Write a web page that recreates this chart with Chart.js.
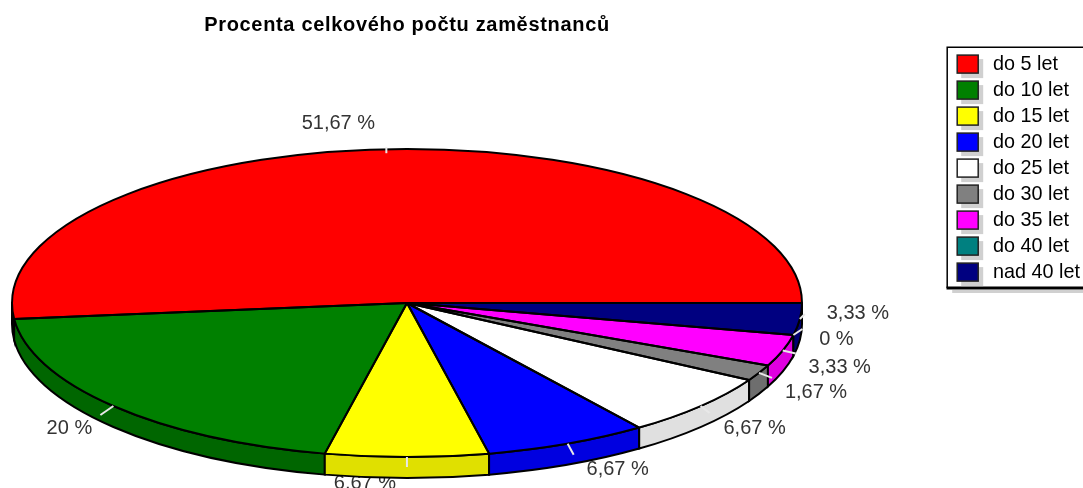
<!DOCTYPE html>
<html>
<head>
<meta charset="utf-8">
<style>
  html, body { margin: 0; padding: 0; background: #fff; overflow: hidden; }
  #box { position: relative; width: 1083px; height: 488px; }
</style>
<script src="https://cdn.jsdelivr.net/npm/chart.js@4"></script>
</head>
<body>
<div id="box"><canvas id="myChart" width="1083" height="488"></canvas></div>
<script>
const categories = ['do 5 let', 'do 10 let', 'do 15 let', 'do 20 let', 'do 25 let', 'do 30 let', 'do 35 let', 'do 40 let', 'nad 40 let'];
const percents = [51.67, 20, 6.67, 6.67, 6.67, 1.67, 3.33, 0, 3.33];
const topColors = ['#ff0000', '#008000', '#ffff00', '#0000ff', '#ffffff', '#808080', '#ff00ff', '#008080', '#000080'];
const wallColors = ['#e00000', '#006600', '#e0e000', '#0000e0', '#e0e0e0', '#6e6e6e', '#e000e0', '#006e6e', '#000070'];
const titleText = 'Procenta celkového počtu zaměstnanců';

// the flattened pie on the page
const pieX = 407, pieY = 303, pieW = 395, pieH = 154, pieDepth = 21;
// label and tick offsets from the rim point in the middle of each slice
const labelOffsets = [[-48, -26], [-44, 22], [-42, 26], [50, 26], [54, 22], [57, 20], [57, 17], [43, 5], [58, -6]];
const tickEnds = [[0, 4], [-13, 9], [0, 10], [6, 11], [9, 7], [13, 5], [13, 3], [9, -6], [5, -5]];

const font = '"Liberation Sans", Arial, sans-serif';

function rimPoint(a) {
  return [pieX + pieW * Math.cos(a), pieY - pieH * Math.sin(a)];
}

const pie3d = {
  id: 'pie3d',
  beforeDatasetsDraw(chart) {
    const ctx = chart.ctx;
    const arcs = chart.getDatasetMeta(0).data;

    // labels go first, the wall covers the top of the lowest one
    ctx.save();
    ctx.font = '20px ' + font;
    ctx.fillStyle = '#333';
    ctx.textAlign = 'center';
    ctx.textBaseline = 'middle';
    arcs.forEach((arc, i) => {
      const p = rimPoint((arc.startAngle + arc.endAngle) / 2);
      const text = String(percents[i]).replace('.', ',') + ' %';
      ctx.fillText(text, p[0] + labelOffsets[i][0], p[1] + labelOffsets[i][1]);
    });

    // side wall, only the front half can be seen
    ctx.strokeStyle = '#000';
    ctx.lineWidth = 2;
    arcs.forEach((arc, i) => {
      const from = Math.max(arc.startAngle, Math.PI);
      const to = Math.min(arc.endAngle, Math.PI * 2);
      if (to <= from) return;
      ctx.beginPath();
      ctx.ellipse(pieX, pieY, pieW, pieH, 0, -from, -to, true);
      ctx.ellipse(pieX, pieY + pieDepth, pieW, pieH, 0, -to, -from, false);
      ctx.closePath();
      ctx.fillStyle = wallColors[i];
      ctx.fill();
      ctx.stroke();
    });
    ctx.restore();

    // squash and mirror, so the clockwise pie runs the other way round
    const first = arcs[0];
    ctx.save();
    ctx.translate(pieX, pieY);
    ctx.scale(pieW / first.outerRadius, -pieH / first.outerRadius);
    ctx.translate(-first.x, -first.y);
  },
  afterDatasetsDraw(chart) {
    const ctx = chart.ctx;
    const arcs = chart.getDatasetMeta(0).data;
    ctx.restore();

    ctx.save();
    ctx.strokeStyle = '#000';
    ctx.lineWidth = 2;
    ctx.lineJoin = 'round';
    arcs.forEach(arc => {
      if (arc.endAngle <= arc.startAngle) return;
      ctx.beginPath();
      ctx.moveTo(pieX, pieY);
      ctx.ellipse(pieX, pieY, pieW, pieH, 0, -arc.startAngle, -arc.endAngle, true);
      ctx.closePath();
      ctx.stroke();
    });

    ctx.strokeStyle = '#e8e8e8';
    ctx.lineWidth = 2;
    arcs.forEach((arc, i) => {
      const p = rimPoint((arc.startAngle + arc.endAngle) / 2);
      ctx.beginPath();
      ctx.moveTo(p[0], p[1] - (i === 0 ? 2 : 0));
      ctx.lineTo(p[0] + tickEnds[i][0], p[1] + tickEnds[i][1]);
      ctx.stroke();
    });
    ctx.restore();
  },
  afterDraw(chart) {
    const ctx = chart.ctx;
    const hits = chart.legend.legendHitBoxes;
    const first = hits[0], last = hits[hits.length - 1];
    const left = first.left - 10, top = first.top - 7;
    const bottom = last.top + last.height + 6;

    ctx.save();
    // frame of the legend with its shadow
    ctx.fillStyle = '#d0d0d0';
    ctx.fillRect(left + 5, bottom + 2, chart.width - left, 3);
    ctx.strokeStyle = '#000';
    ctx.lineWidth = 1.5;
    ctx.beginPath();
    ctx.moveTo(chart.width, top);
    ctx.lineTo(left, top);
    ctx.lineTo(left, bottom);
    ctx.stroke();
    ctx.lineWidth = 3;
    ctx.beginPath();
    ctx.moveTo(left - 0.7, bottom);
    ctx.lineTo(chart.width, bottom);
    ctx.stroke();

    // swatches
    hits.forEach((hit, i) => {
      const y = hit.top + (hit.height - 18) / 2;
      ctx.fillStyle = '#d0d0d0';
      ctx.fillRect(hit.left + 4, y + 4, 22, 19);
      ctx.fillStyle = topColors[i];
      ctx.fillRect(hit.left, y, 21, 18);
      ctx.strokeStyle = '#222';
      ctx.lineWidth = 1.5;
      ctx.strokeRect(hit.left, y, 21, 18);
    });
    ctx.restore();
  }
};

const placeTitle = {
  id: 'placeTitle',
  afterLayout(chart) {
    // the title sits above the pie, not above the whole canvas
    const title = chart.titleBlock;
    title.left = 0;
    title.right = pieX * 2;
    if (!title.plainDraw) {
      title.plainDraw = title.draw;
      title.draw = function () {
        chart.ctx.save();
        chart.ctx.letterSpacing = '0.68px';
        title.plainDraw();
        chart.ctx.restore();
      };
    }
  }
};

const myChart = new Chart(document.getElementById('myChart'), {
  type: 'pie',
  data: {
    labels: categories,
    datasets: [{
      data: percents,
      backgroundColor: topColors,
      borderWidth: 0,
      clip: false
    }]
  },
  plugins: [placeTitle, pie3d],
  options: {
    responsive: false,
    animation: false,
    rotation: 90,
    plugins: {
      tooltip: { enabled: false },
      title: {
        display: true,
        text: titleText,
        color: '#000',
        font: { family: font, size: 20, weight: 'bold' },
        padding: { top: 13, bottom: 11 }
      },
      legend: {
        position: 'right',
        align: 'start',
        fullSize: false,
        maxWidth: 132,
        labels: {
          boxWidth: 26,
          boxHeight: 17,
          padding: 6.2,
          color: '#333',
          font: { family: font, size: 19.8 },
          generateLabels(chart) {
            return categories.map((name, i) => ({
              text: name,
              index: i,
              fillStyle: 'transparent',
              strokeStyle: 'transparent',
              lineWidth: 0
            }));
          }
        }
      }
    }
  }
});
</script>
</body>
</html>
